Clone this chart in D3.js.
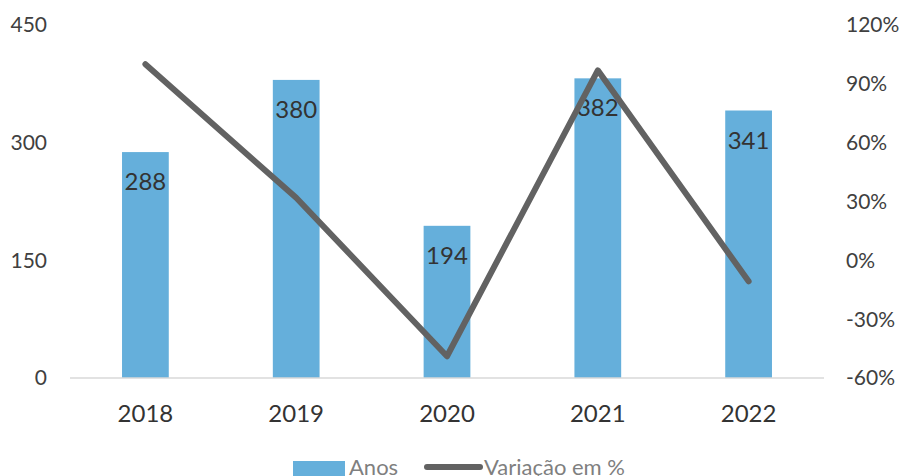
<!DOCTYPE html>
<html>
<head>
<meta charset="utf-8">
<script src="https://d3js.org/d3.v7.min.js"></script>
<style>
    body { margin: 0; background: #fff; }
    text { font-family: Lato, "Open Sans", sans-serif; }
    .tick-label { font-size: 21px; fill: #404040; }
    .cat-label { font-size: 24px; fill: #333; }
    .bar-label { font-size: 24px; fill: #333; }
    .legend-text { font-size: 22px; fill: #7f7f7f; }
</style>
</head>
<body>
<div id="chart"></div>
<script>
// chart data
const years = ["2018", "2019", "2020", "2021", "2022"];
const anos = [288, 380, 194, 382, 341];
const variacao = [100, 31.9, -48.9, 96.9, -10.7];  // percent
const leftTicks = [0, 150, 300, 450];
const rightTicks = [-60, -30, 0, 30, 60, 90, 120];

const width = 900, height = 476;
const plot = { left: 70, right: 824, top: 25, bottom: 378 };

const svg = d3.select("#chart").append("svg")
    .attr("width", width)
    .attr("height", height);

const x = d3.scaleBand()
    .domain(years)
    .range([plot.left, plot.right])
    .paddingInner(0.69)
    .paddingOuter(0.345);

const yLeft = d3.scaleLinear().domain([0, 450]).range([plot.bottom, plot.top]);
const yRight = d3.scaleLinear().domain([-60, 120]).range([plot.bottom, plot.top]);

// left tick labels
svg.selectAll(".lt")
    .data(leftTicks)
    .enter().append("text")
    .attr("class", "tick-label")
    .attr("x", 47)
    .attr("y", d => yLeft(d))
    .attr("dy", "0.35em")
    .attr("text-anchor", "end")
    .text(d => d);

// right tick labels
svg.selectAll(".rt")
    .data(rightTicks)
    .enter().append("text")
    .attr("class", "tick-label")
    .attr("x", 846)
    .attr("y", d => yRight(d))
    .attr("dy", "0.35em")
    .text(d => d + "%");

// bars
svg.selectAll(".bar")
    .data(anos)
    .enter().append("rect")
    .attr("class", "bar")
    .attr("x", (d, i) => x(years[i]))
    .attr("y", d => yLeft(d))
    .attr("width", x.bandwidth())
    .attr("height", d => plot.bottom - yLeft(d))
    .attr("fill", "#65afdb");

// category axis line
svg.append("line")
    .attr("x1", plot.left).attr("x2", plot.right)
    .attr("y1", plot.bottom).attr("y2", plot.bottom)
    .attr("stroke", "#d9d9d9")
    .attr("stroke-width", 1.5);

// category labels
svg.selectAll(".xl")
    .data(years)
    .enter().append("text")
    .attr("class", "cat-label")
    .attr("x", d => x(d) + x.bandwidth() / 2)
    .attr("y", 422)
    .attr("text-anchor", "middle")
    .text(d => d);

// bar value labels
svg.selectAll(".bar-label")
    .data(anos)
    .enter().append("text")
    .attr("class", "bar-label")
    .attr("x", (d, i) => x(years[i]) + x.bandwidth() / 2)
    .attr("y", d => yLeft(d) + 38)
    .attr("text-anchor", "middle")
    .text(d => d);

// variation line
const line = d3.line()
    .x((d, i) => x(years[i]) + x.bandwidth() / 2)
    .y(d => yRight(d));

svg.append("path")
    .datum(variacao)
    .attr("d", line)
    .attr("fill", "none")
    .attr("stroke", "#626262")
    .attr("stroke-width", 6)
    .attr("stroke-linecap", "round")
    .attr("stroke-linejoin", "round");

// legend
const lg = svg.append("g");
lg.append("rect")
    .attr("x", 293).attr("y", 461)
    .attr("width", 52).attr("height", 15)
    .attr("fill", "#65afdb");
lg.append("text")
    .attr("class", "legend-text")
    .attr("x", 349).attr("y", 475)
    .text("Anos");
lg.append("line")
    .attr("x1", 427).attr("x2", 480)
    .attr("y1", 467).attr("y2", 467)
    .attr("stroke", "#626262")
    .attr("stroke-width", 6)
    .attr("stroke-linecap", "round");
lg.append("text")
    .attr("class", "legend-text")
    .attr("x", 484).attr("y", 475)
    .text("Variação em %");
</script>
</body>
</html>
